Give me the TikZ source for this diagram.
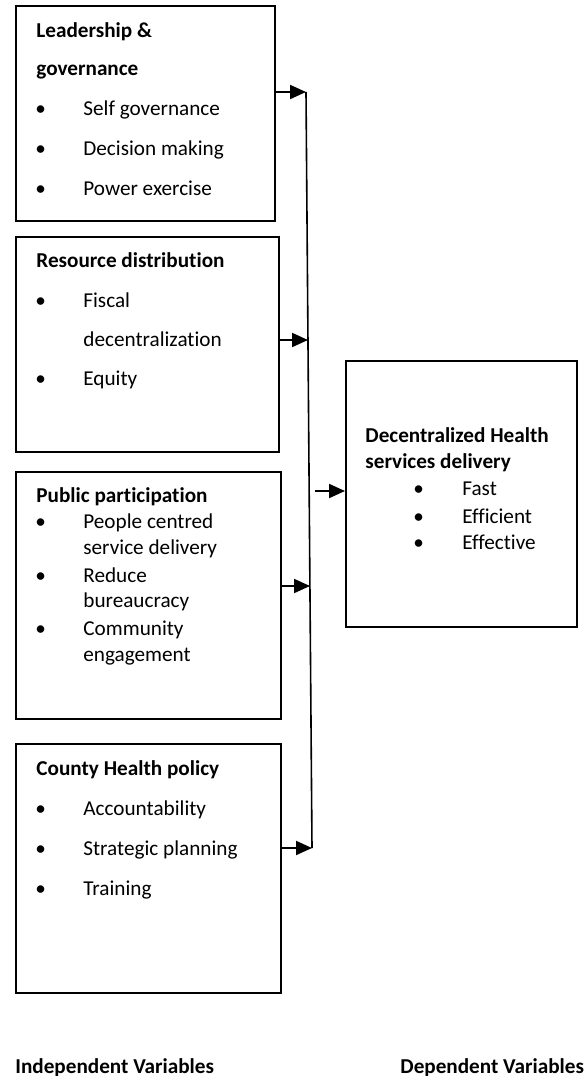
\documentclass[tikz,border=0pt]{standalone}
\usepackage{fontspec}
\setmainfont{Carlito}[Ligatures=NoCommon]
\definecolor{color0}{HTML}{000000}
\definecolor{bgColor}{HTML}{ffffff}
\usetikzlibrary{arrows.meta}
\tikzset{
  varbox/.style={draw=color0, line width=1pt, anchor=north west, inner sep=0pt},
  head/.style={anchor=base west, inner sep=0pt, font=\fontsize{10.6}{12}\selectfont\bfseries},
  item/.style={anchor=base west, inner sep=0pt, font=\fontsize{10.6}{12}\selectfont},
  conn/.style={line width=1pt, color=color0, -{Triangle[length=8pt,width=7pt]}},
  bus/.style={line width=0.8pt, color=color0}
}
\begin{document}
\begin{tikzpicture}
\tikzset{x=0.5pt,y=-0.5pt}
\useasboundingbox (0,0) rectangle (588,1076);
\fill[bgColor] (0,0) rectangle (588,1076);
% independent variables
\node[varbox, minimum width=129.5pt, minimum height=107.5pt] (lead) at (15,5) {};
\node[head] (leadA) at (36,37) {Leadership \&};
\node[head] (leadB) at (36,75) {governance};
\node[item] (leadBa) at (35,115) {•};
\node[item] (leadCa) at (35,155) {•};
\node[item] (leadDa) at (35,195) {•};
\node[item] (leadBb) at (83,115) {Self governance};
\node[item] (leadCb) at (83,155) {Decision making};
\node[item] (leadDb) at (83,195) {Power exercise};

\node[varbox, minimum width=131.5pt, minimum height=107.5pt] (res) at (15,236) {};
\node[head] (resA) at (36,267) {Resource distribution};
\node[item] (resBa) at (35,307) {•};
\node[item] (resBb) at (83,307) {Fiscal};
\node[item] (resC) at (83,346) {decentralization};
\node[item] (resDa) at (35,385) {•};
\node[item] (resDb) at (83,385) {Equity};

\node[varbox, minimum width=132.5pt, minimum height=123.5pt] (pub) at (15,471) {};
\node[head] (pubA) at (36,502) {Public participation};
\node[item] (pubBa) at (35,528) {•};
\node[item] (pubBb) at (83,528) {People centred};
\node[item] (pubC) at (83,554) {service delivery};
\node[item] (pubDa) at (35,582) {•};
\node[item] (pubDb) at (83,582) {Reduce};
\node[item] (pubE) at (83,607) {bureaucracy};
\node[item] (pubFa) at (35,635) {•};
\node[item] (pubFb) at (83,635) {Community};
\node[item] (pubG) at (83,661) {engagement};

\node[varbox, minimum width=132.5pt, minimum height=124.5pt] (pol) at (15,743) {};
\node[head] (polA) at (36,775) {County Health policy};
\node[item] (polBa) at (35,815) {•};
\node[item] (polCa) at (35,855) {•};
\node[item] (polDa) at (35,895) {•};
\node[item] (polBb) at (83,815) {Accountability};
\node[item] (polCb) at (83,855) {Strategic planning};
\node[item] (polDb) at (83,895) {Training};

% dependent variable
\node[varbox, minimum width=115.5pt, minimum height=133pt] (dhs) at (345,360) {};
\node[head] (dhsA) at (365,442) {Decentralized Health};
\node[head] (dhsB) at (365,468) {services delivery};
\node[item] (dhsCa) at (413,495) {•};
\node[item] (dhsDa) at (413,523) {•};
\node[item] (dhsEa) at (413,549) {•};
\node[item] (dhsCb) at (462,495) {Fast};
\node[item] (dhsDb) at (462,523) {Efficient};
\node[item] (dhsEb) at (462,549) {Effective};

% connectors
\coordinate (bustop) at (306,92);
\coordinate (j2) at (308,340);
\coordinate (j3) at (310,586);
\coordinate (busbot) at (312,848);
\coordinate (jin) at (315,491);
\draw[bus] (bustop) -- (busbot);
\draw[conn] (lead.east |- bustop) -- (bustop);
\draw[conn] (res.east |- j2) -- (j2);
\draw[conn] (pub.east |- j3) -- (j3);
\draw[conn] (pol.east |- busbot) -- (busbot);
\draw[conn] (jin) -- (dhs.west |- jin);

% captions
\node[head] (indep) at (15,1073) {Independent Variables};
\node[head] (dep) at (400,1073) {Dependent Variables};
\end{tikzpicture}
\end{document}
